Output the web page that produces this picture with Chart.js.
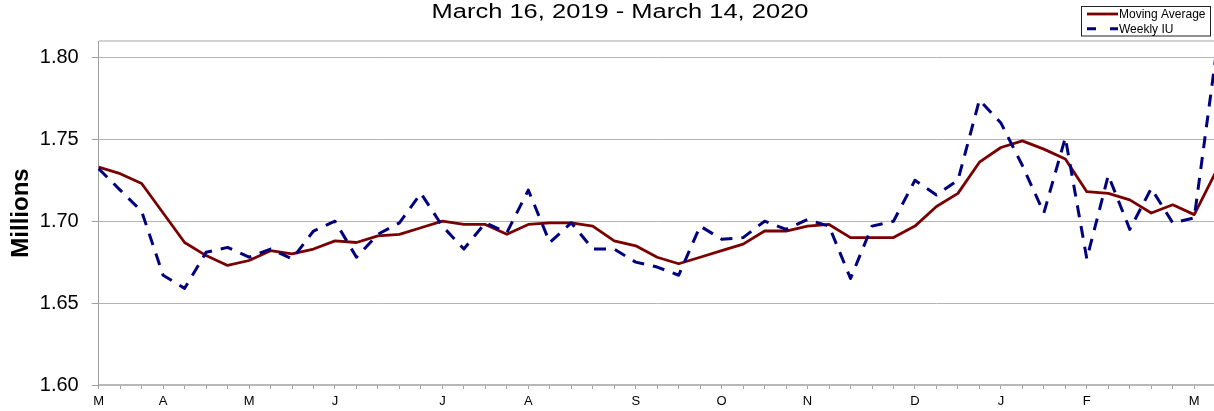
<!DOCTYPE html>
<html>
<head>
<meta charset="utf-8">
<script src="https://cdn.jsdelivr.net/npm/chart.js@4.4.1/dist/chart.umd.min.js"></script>
<style>
  html, body { margin: 0; padding: 0; overflow: hidden; background: #fff; }
  #wrap { position: absolute; left: 0; top: 0; width: 1222px; height: 411px; }
</style>
</head>
<body>
<div id="wrap"><canvas id="c"></canvas></div>
<script>
const titleText = 'March 16, 2019 - March 14, 2020';
const yAxisTitle = 'Millions';

const weekEnding = [
  '2019-03-16','2019-03-23','2019-03-30','2019-04-06','2019-04-13','2019-04-20','2019-04-27',
  '2019-05-04','2019-05-11','2019-05-18','2019-05-25','2019-06-01','2019-06-08','2019-06-15',
  '2019-06-22','2019-06-29','2019-07-06','2019-07-13','2019-07-20','2019-07-27','2019-08-03',
  '2019-08-10','2019-08-17','2019-08-24','2019-08-31','2019-09-07','2019-09-14','2019-09-21',
  '2019-09-28','2019-10-05','2019-10-12','2019-10-19','2019-10-26','2019-11-02','2019-11-09',
  '2019-11-16','2019-11-23','2019-11-30','2019-12-07','2019-12-14','2019-12-21','2019-12-28',
  '2020-01-04','2020-01-11','2020-01-18','2020-01-25','2020-02-01','2020-02-08','2020-02-15',
  '2020-02-22','2020-02-29','2020-03-07','2020-03-14'
];

const monthTickLabels = [
  'M','','','A','','','','M','','','','J','','','','','J','','','','A','','','','',
  'S','','','','O','','','','N','','','','','D','','','','J','','','','F','','','','',
  'M',''
];

const movingAverage = [
  1.733, 1.729, 1.723, 1.705, 1.687, 1.679, 1.673, 1.676, 1.682, 1.680,
  1.683, 1.688, 1.687, 1.691, 1.692, 1.696, 1.700, 1.698, 1.698, 1.692,
  1.698, 1.699, 1.699, 1.697, 1.688, 1.685, 1.678, 1.674, 1.678, 1.682,
  1.686, 1.694, 1.694, 1.697, 1.698, 1.690, 1.690, 1.690, 1.697, 1.709,
  1.717, 1.736, 1.745, 1.749, 1.744, 1.738, 1.718, 1.717, 1.713, 1.705,
  1.710, 1.704, 1.730
];

const weeklyIU = [
  1.732, 1.719, 1.706, 1.667, 1.659, 1.681, 1.684, 1.678, 1.683, 1.677,
  1.694, 1.700, 1.678, 1.692, 1.699, 1.717, 1.697, 1.683, 1.699, 1.693,
  1.719, 1.687, 1.699, 1.683, 1.683, 1.675, 1.672, 1.667, 1.697, 1.689,
  1.690, 1.700, 1.695, 1.701, 1.697, 1.665, 1.697, 1.700, 1.725, 1.716,
  1.725, 1.774, 1.760, 1.734, 1.705, 1.751, 1.677, 1.728, 1.695, 1.720,
  1.699, 1.702, 1.800
];

const yTickValues = [1.60, 1.65, 1.70, 1.75, 1.80];
const yMin = 1.60;
const yMax = 1.81;

const FONT = "'Liberation Sans', Arial, Helvetica, sans-serif";

const titleAndLegend = {
  id: 'titleAndLegend',
  afterDraw(chart) {
    const ctx = chart.ctx;
    // title (wide, stretched horizontally like the reference)
    ctx.save();
    ctx.fillStyle = '#000';
    ctx.font = '20px ' + FONT;
    ctx.textBaseline = 'middle';
    ctx.textAlign = 'center';
    const w = ctx.measureText(titleText).width;
    const k = 377 / w;
    ctx.translate(620, 12.5);
    ctx.scale(k, 1);
    ctx.fillText(titleText, 0, 0);
    ctx.restore();

    // legend
    ctx.save();
    ctx.strokeStyle = '#222';
    ctx.lineWidth = 1;
    ctx.strokeRect(1081.5, 6.5, 129, 29.5);
    const rows = [14, 28.8];
    chart.data.datasets.forEach((ds, i) => {
      const y = rows[i];
      ctx.beginPath();
      ctx.strokeStyle = ds.borderColor;
      ctx.lineWidth = ds.borderWidth;
      ctx.setLineDash(ds.borderDash ? [9, 14] : []);
      ctx.moveTo(1087, y);
      ctx.lineTo(1118, y);
      ctx.stroke();
      ctx.setLineDash([]);
      ctx.fillStyle = '#000';
      ctx.font = '12px ' + FONT;
      ctx.textBaseline = 'middle';
      ctx.textAlign = 'left';
      ctx.fillText(ds.label, 1119, y + 0.5);
    });
    ctx.restore();
  }
};

new Chart(document.getElementById('c'), {
  type: 'line',
  data: {
    labels: weekEnding,
    datasets: [
      {
        label: 'Moving Average',
        data: movingAverage,
        borderColor: '#7a0000',
        borderWidth: 2.8,
        pointRadius: 0,
        tension: 0,
        fill: false,
        borderJoinStyle: 'round',
        order: 1
      },
      {
        label: 'Weekly IU',
        data: weeklyIU,
        borderColor: '#00007f',
        borderWidth: 3,
        borderDash: [12, 9],
        pointRadius: 0,
        tension: 0,
        fill: false,
        borderJoinStyle: 'round',
        order: 0
      }
    ]
  },
  options: {
    responsive: true,
    maintainAspectRatio: false,
    animation: false,
    layout: { padding: { left: 24.3, right: 6.3, top: 41, bottom: 0 } },
    plugins: {
      legend: { display: false },
      tooltip: { enabled: false },
      title: { display: false }
    },
    scales: {
      x: {
        type: 'category',
        offset: false,
        grid: {
          drawOnChartArea: false,
          drawTicks: true,
          tickLength: 4,
          tickColor: '#a0a0a0',
          tickWidth: 1
        },
        border: { display: true, color: '#b8b8b8', width: 2 },
        ticks: {
          autoSkip: false,
          maxRotation: 0,
          minRotation: 0,
          padding: 5,
          color: '#000',
          font: { family: FONT, size: 13 },
          callback: (v, i) => monthTickLabels[i]
        },
        afterFit: (s) => { s.height = 26; }
      },
      y: {
        min: yMin,
        max: yMax,
        afterBuildTicks: (s) => {
          s.ticks = yTickValues.concat([yMax]).map(v => ({ value: v }));
        },
        grid: {
          color: (c) => (c.tick && c.tick.value > 1.805) ? '#d2d2d2' : '#b4b4b4',
          lineWidth: (c) => (c.tick && c.tick.value > 1.805) ? 2 : 1,
          tickColor: (c) => (c.tick && c.tick.value > 1.805) ? 'rgba(0,0,0,0)' : '#a0a0a0',
          tickLength: 7,
          drawTicks: true
        },
        border: { display: true, color: '#a0a0a0', width: 1 },
        ticks: {
          padding: 13,
          color: '#000',
          font: { family: FONT, size: 20 },
          callback: (v) => (v > 1.805 ? '' : Number(v).toFixed(2))
        },
        title: {
          display: true,
          text: yAxisTitle,
          color: '#000',
          font: { family: FONT, size: 24, weight: 'bold', lineHeight: 1.2 },
          padding: { top: -17.7, bottom: 0 }
        },
        afterFit: (s) => { s.width = 74.4; }
      }
    }
  },
  plugins: [titleAndLegend]
});
</script>
</body>
</html>
